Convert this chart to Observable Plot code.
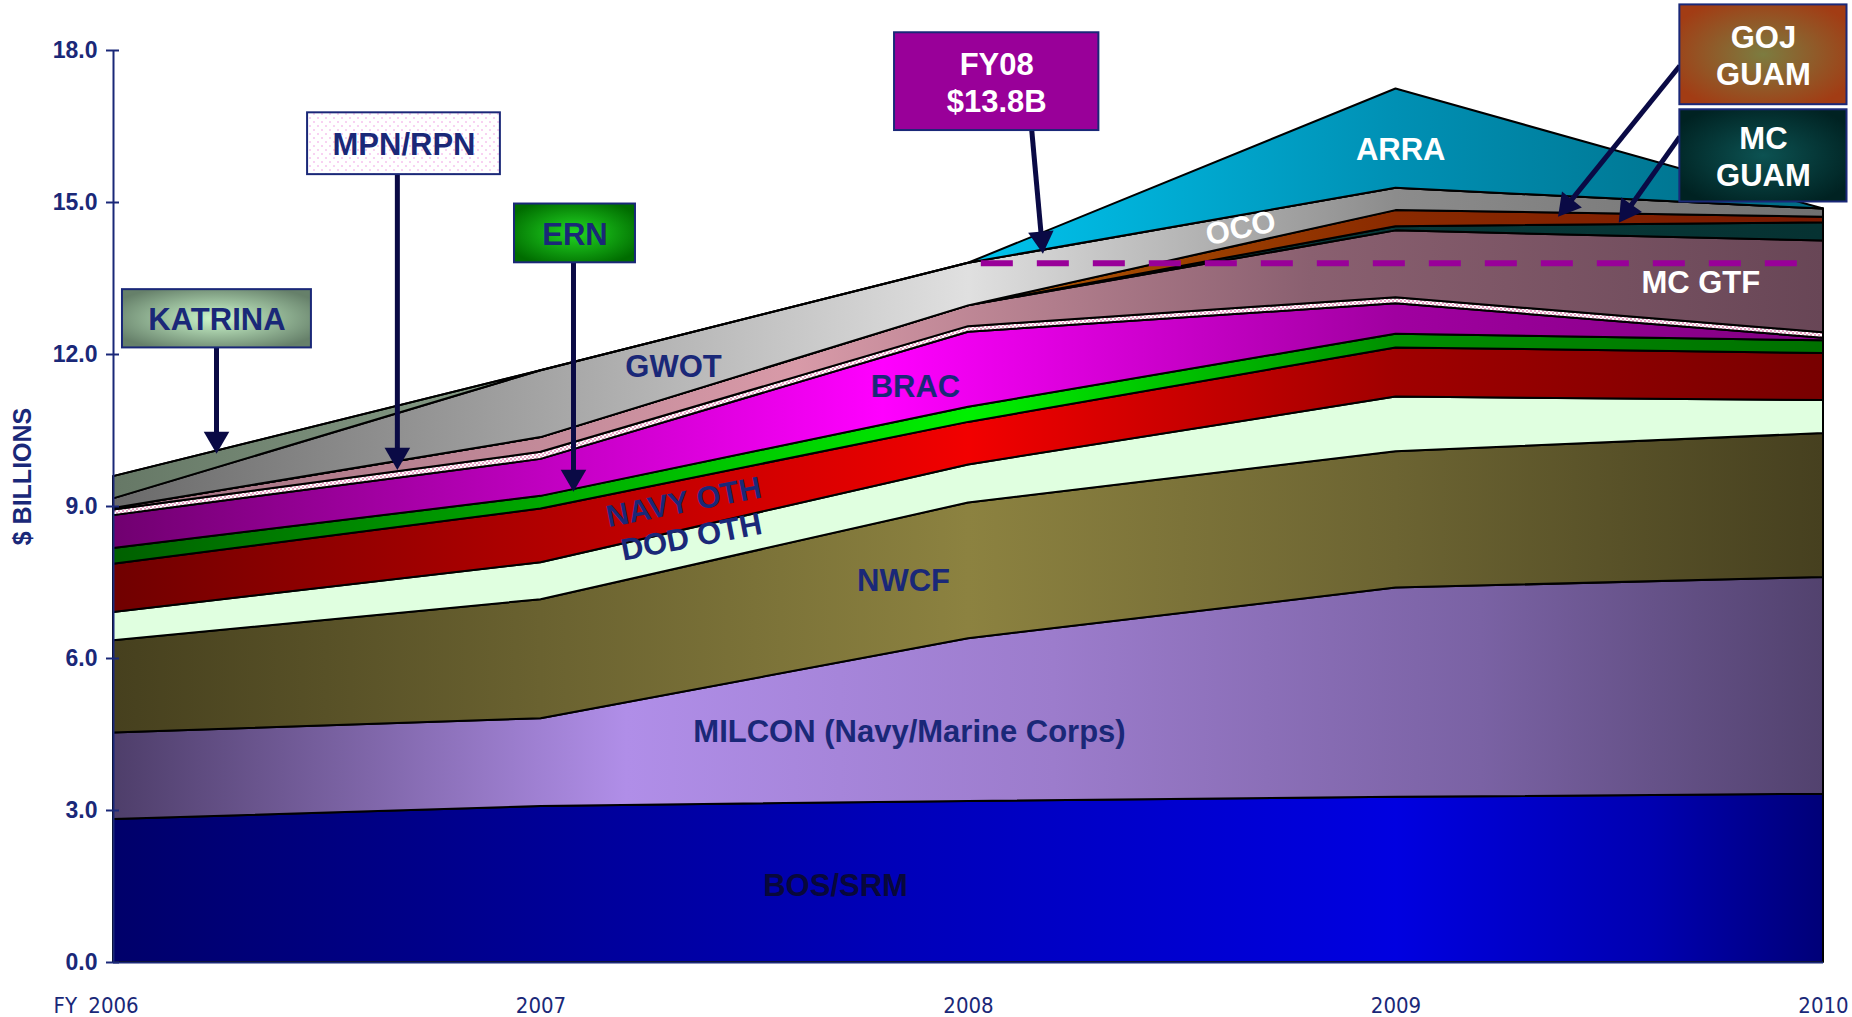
<!DOCTYPE html>
<html><head><meta charset="utf-8">
<script src="https://cdn.jsdelivr.net/npm/d3@7"></script>
<script src="https://cdn.jsdelivr.net/npm/@observablehq/plot@0.6"></script>
<style>
html,body{margin:0;padding:0;background:#fff;}
#chart{width:1852px;height:1017px;}
</style></head><body>
<svg width="0" height="0" style="position:absolute">
<defs>
<linearGradient id="g-bos" x1="0" y1="0" x2="1" y2="0">
 <stop offset="0" stop-color="#00006a"/><stop offset="0.45" stop-color="#0000b8"/><stop offset="0.75" stop-color="#0000e0"/><stop offset="0.9" stop-color="#0000b0"/><stop offset="1" stop-color="#000078"/>
</linearGradient>
<linearGradient id="g-milcon" x1="0" y1="0" x2="1" y2="0">
 <stop offset="0" stop-color="#4e3e6a"/><stop offset="0.3" stop-color="#b08ee8"/><stop offset="0.55" stop-color="#9c7ccc"/><stop offset="0.8" stop-color="#7a62a4"/><stop offset="1" stop-color="#52426e"/>
</linearGradient>
<linearGradient id="g-nwcf" x1="0" y1="0" x2="1" y2="0">
 <stop offset="0" stop-color="#46401e"/><stop offset="0.25" stop-color="#6a6230"/><stop offset="0.5" stop-color="#8c8240"/><stop offset="0.75" stop-color="#6c6432"/><stop offset="1" stop-color="#46401f"/>
</linearGradient>
<linearGradient id="g-navy" x1="0" y1="0" x2="1" y2="0">
 <stop offset="0" stop-color="#700000"/><stop offset="0.5" stop-color="#f20000"/><stop offset="0.75" stop-color="#a00000"/><stop offset="1" stop-color="#780000"/>
</linearGradient>
<linearGradient id="g-ern" x1="0" y1="0" x2="1" y2="0">
 <stop offset="0" stop-color="#006000"/><stop offset="0.5" stop-color="#00f000"/><stop offset="0.75" stop-color="#009000"/><stop offset="1" stop-color="#007000"/>
</linearGradient>
<linearGradient id="g-brac" x1="0" y1="0" x2="1" y2="0">
 <stop offset="0" stop-color="#700070"/><stop offset="0.45" stop-color="#ff00ff"/><stop offset="0.75" stop-color="#a000a0"/><stop offset="1" stop-color="#800080"/>
</linearGradient>
<linearGradient id="g-mcgtf" x1="0" y1="0" x2="1" y2="0">
 <stop offset="0" stop-color="#a07080"/><stop offset="0.4" stop-color="#d89aa8"/><stop offset="0.7" stop-color="#8a6070"/><stop offset="1" stop-color="#684656"/>
</linearGradient>
<linearGradient id="g-mcguam" x1="0" y1="0" x2="1" y2="0">
 <stop offset="0" stop-color="#0a4a4a"/><stop offset="1" stop-color="#063232"/>
</linearGradient>
<linearGradient id="g-goj" x1="0" y1="0" x2="1" y2="0">
 <stop offset="0.5" stop-color="#b05a00"/><stop offset="0.75" stop-color="#8a2a00"/><stop offset="1" stop-color="#7a1800"/>
</linearGradient>
<linearGradient id="g-gwot" x1="0" y1="0" x2="1" y2="0">
 <stop offset="0" stop-color="#6a6a6a"/><stop offset="0.25" stop-color="#a4a4a4"/><stop offset="0.5" stop-color="#e0e0e0"/><stop offset="0.75" stop-color="#8c8c8c"/><stop offset="1" stop-color="#707070"/>
</linearGradient>
<linearGradient id="g-katrina" x1="0" y1="0" x2="1" y2="0">
 <stop offset="0" stop-color="#667866"/><stop offset="0.25" stop-color="#8aa08a"/><stop offset="1" stop-color="#8aa08a"/>
</linearGradient>
<linearGradient id="g-arra" x1="0" y1="0" x2="1" y2="0">
 <stop offset="0" stop-color="#00c4ee"/><stop offset="0.5" stop-color="#00c4ee"/><stop offset="0.75" stop-color="#0090b4"/><stop offset="1" stop-color="#006a82"/>
</linearGradient>
<pattern id="p-mpn" width="4" height="4" patternUnits="userSpaceOnUse">
 <rect width="4" height="4" fill="#ffffff"/><rect width="2" height="2" fill="#eaa8c8"/><rect x="2" y="2" width="2" height="2" fill="#eaa8c8"/>
</pattern>
<pattern id="p-mpnbox" width="8" height="8" patternUnits="userSpaceOnUse">
 <rect width="8" height="8" fill="#ffffff"/><circle cx="2" cy="2" r="1" fill="#f6c4ee"/><circle cx="6" cy="6" r="1" fill="#f6c4ee"/>
</pattern>
<radialGradient id="r-katrina" cx="0.5" cy="0.5" r="0.6">
 <stop offset="0" stop-color="#ccf8cc"/><stop offset="1" stop-color="#66806a"/>
</radialGradient>
<radialGradient id="r-ern" cx="0.5" cy="0.5" r="0.6">
 <stop offset="0" stop-color="#22d822"/><stop offset="1" stop-color="#006c00"/>
</radialGradient>
<radialGradient id="r-goj" cx="0.5" cy="0.5" r="0.6">
 <stop offset="0" stop-color="#7c7c40"/><stop offset="1" stop-color="#a23c14"/>
</radialGradient>
<radialGradient id="r-mcguam" cx="0.5" cy="0.5" r="0.6">
 <stop offset="0" stop-color="#0c5252"/><stop offset="1" stop-color="#002222"/>
</radialGradient>
</defs></svg>
<div id="chart"></div>
<script>
// ---- data (FY, $ billions) ----
const years = [2006, 2007, 2008, 2009, 2010];
const yTicks = [0, 3, 6, 9, 12, 15, 18];
const seriesNames = ["BOS/SRM", "MILCON (Navy/Marine Corps)", "NWCF", "DOD OTH", "NAVY OTH", "ERN", "BRAC", "MPN/RPN", "MC GTF", "MC GUAM", "GOJ GUAM", "GWOT/OCO", "KATRINA", "ARRA"];
const bosSrm   = [2.82, 3.08, 3.18, 3.26, 3.32];
const milcon   = [1.71, 1.73, 3.21, 4.13, 4.28];
const nwcf     = [1.82, 2.35, 2.68, 2.69, 2.84];
const dodOth   = [0.56, 0.73, 0.75, 1.08, 0.65];
const navyOth  = [0.95, 1.06, 0.84, 0.97, 0.93];
const ern      = [0.31, 0.25, 0.30, 0.27, 0.25];
const brac     = [0.65, 0.73, 1.48, 0.60, 0.05];
const mpnRpn   = [0.11, 0.14, 0.11, 0.12, 0.11];
const mcGtf    = [0.03, 0.29, 0.41, 1.32, 1.81];
const mcGuam   = [0.00, 0.00, 0.00, 0.08, 0.36];
const gojGuam  = [0.00, 0.00, 0.00, 0.32, 0.11];
const gwotOco  = [0.19, 1.32, 0.84, 0.44, 0.16];
const katrina  = [0.44, 0.00, 0.00, 0.00, 0.00];
const arra     = [0.00, 0.00, 0.00, 1.96, 0.00];
const fy08Total = 13.8;

const seriesValues = [bosSrm, milcon, nwcf, dodOth, navyOth, ern, brac, mpnRpn, mcGtf, mcGuam, gojGuam, gwotOco, katrina, arra];
const fills = {
  "BOS/SRM": "url(#g-bos)", "MILCON (Navy/Marine Corps)": "url(#g-milcon)", "NWCF": "url(#g-nwcf)",
  "DOD OTH": "#e0ffe0", "NAVY OTH": "url(#g-navy)", "ERN": "url(#g-ern)", "BRAC": "url(#g-brac)",
  "MPN/RPN": "url(#p-mpn)", "MC GTF": "url(#g-mcgtf)", "MC GUAM": "url(#g-mcguam)", "GOJ GUAM": "url(#g-goj)",
  "GWOT/OCO": "url(#g-gwot)", "KATRINA": "url(#g-katrina)", "ARRA": "url(#g-arra)"
};
const data = seriesNames.flatMap((s, i) => years.map((yr, j) => ({series: s, year: yr, value: seriesValues[i][j]})));

// ---- annotations ----
const navy = "#1a2878";
const layerLabels = [
  {text: "BOS/SRM", x: 2007.689, y: 1.50, color: "#08083a", rotate: 0},
  {text: "MILCON (Navy/Marine Corps)", x: 2007.862, y: 4.54, color: navy, rotate: 0},
  {text: "NWCF", x: 2007.848, y: 7.52, color: navy, rotate: 0},
  {text: "DOD OTH", x: 2007.352, y: 8.39, color: navy, rotate: -11},
  {text: "NAVY OTH", x: 2007.334, y: 9.08, color: navy, rotate: -11},
  {text: "BRAC", x: 2007.876, y: 11.35, color: navy, rotate: 0},
  {text: "GWOT", x: 2007.310, y: 11.76, color: navy, rotate: 0},
  {text: "OCO", x: 2008.637, y: 14.49, color: "white", rotate: -12},
  {text: "ARRA", x: 2009.011, y: 16.03, color: "white", rotate: 0},
  {text: "MC GTF", x: 2009.713, y: 13.40, color: "white", rotate: 0}
];
const boxes = [
  {text: "KATRINA", x1: 2006.021, x2: 2006.463, y1: 12.13, y2: 13.28, fill: "url(#r-katrina)", color: navy},
  {text: "MPN/RPN", x1: 2006.454, x2: 2006.905, y1: 15.55, y2: 16.77, fill: "url(#p-mpnbox)", color: navy},
  {text: "ERN", x1: 2006.938, x2: 2007.221, y1: 13.81, y2: 14.97, fill: "url(#r-ern)", color: navy},
  {text: "FY08\n$" + fy08Total.toFixed(1) + "B", x1: 2007.827, x2: 2008.305, y1: 16.42, y2: 18.35, fill: "#990099", color: "white"},
  {text: "GOJ\nGUAM", x1: 2009.664, x2: 2010.055, y1: 16.93, y2: 18.90, fill: "url(#r-goj)", color: "white"},
  {text: "MC\nGUAM", x1: 2009.664, x2: 2010.055, y1: 15.01, y2: 16.83, fill: "url(#r-mcguam)", color: "white"}
];
const arrows = [
  {x1: 2006.241, y1: 12.13, x2: 2006.241, y2: 10.04},
  {x1: 2006.664, y1: 15.55, x2: 2006.664, y2: 9.72},
  {x1: 2007.076, y1: 13.81, x2: 2007.076, y2: 9.29},
  {x1: 2008.148, y1: 16.42, x2: 2008.174, y2: 13.99},
  {x1: 2009.664, y1: 17.70, x2: 2009.379, y2: 14.72},
  {x1: 2009.664, y1: 16.30, x2: 2009.521, y2: 14.60}
];

const W = 1852, H = 1017, ML = 113, MR = 29, MT = 50, MB = 55;
const pxPerYear = (W - ML - MR) / 4, pxPerUnit = (H - MT - MB) / 18;
// filled triangular heads: centre placed back from the tip along the arrow direction
const headR = 9.5;
const headBack = 2 * Math.sqrt(Math.PI * headR * headR / (3 * Math.sqrt(3)));
const heads = arrows.map(a => {
  const dx = (a.x2 - a.x1) * pxPerYear, dy = -(a.y2 - a.y1) * pxPerUnit;
  const len = Math.hypot(dx, dy), ux = dx / len, uy = dy / len;
  return {
    x: a.x2 - ux * headBack / pxPerYear,
    y: a.y2 + uy * headBack / pxPerUnit,
    rotate: Math.atan2(dx, -dy) * 180 / Math.PI
  };
});

const bold = "'Liberation Sans', Arial, Helvetica, sans-serif";
const narrow = "'Liberation Sans Narrow', 'Arial Narrow', 'DejaVu Sans Condensed', sans-serif";

const chart = Plot.plot({
  width: W, height: H,
  marginLeft: ML, marginRight: MR, marginTop: MT, marginBottom: MB,
  x: {domain: [2006, 2010], axis: null},
  y: {domain: [0, 18], axis: null},
  color: {type: "identity"},
  style: {fontFamily: bold, background: "white", overflow: "visible"},
  marks: [
    Plot.areaY(data, Plot.stackY({x: "year", y: "value", z: "series", order: seriesNames,
      fill: d => fills[d.series], stroke: "#000", strokeWidth: 2, strokeLinejoin: "round"})),
    Plot.ruleY([fy08Total], {x1: 2008.03, x2: 2009.97, stroke: "#990099", strokeWidth: 6, strokeDasharray: "32,24"}),
    Plot.text(layerLabels, {x: "x", y: "y", text: "text", fill: "color", rotate: "rotate", fontSize: 31, fontWeight: "bold"}),
    // axes
    Plot.ruleX([2006], {y1: 0, y2: 18, stroke: navy, strokeWidth: 2}),
    Plot.ruleY([0], {x1: 2006, x2: 2010, stroke: navy, strokeWidth: 2}),
    Plot.ruleY(yTicks, {x1: 2006 - 7 / pxPerYear, x2: 2006 + 6 / pxPerYear, stroke: navy, strokeWidth: 2}),
    Plot.text(yTicks, {x: 2006, y: d => d, text: d => d.toFixed(1), textAnchor: "end", dx: -16, fontSize: 23, fontWeight: "bold", fill: navy}),
    Plot.text(years, {x: d => d, frameAnchor: "bottom", dy: 50, text: d => String(d), fontSize: 22, fontFamily: narrow, fill: navy}),
    Plot.text(["FY"], {frameAnchor: "bottom-left", dx: -60, dy: 50, fontSize: 22, fontFamily: narrow, fill: navy}),
    Plot.text(["$ BILLIONS"], {frameAnchor: "left", textAnchor: "middle", dx: -91, dy: -30, rotate: -90, fontSize: 25, fontWeight: "bold", fill: navy}),
    // callouts
    Plot.link(arrows.map((a, i) => ({...a, hx: heads[i].x, hy: heads[i].y})), {x1: "x1", y1: "y1", x2: "hx", y2: "hy", stroke: "#0a0a45", strokeWidth: 5}),
    Plot.dot(heads, {x: "x", y: "y", rotate: "rotate", symbol: "triangle", r: headR, fill: "#0a0a45", stroke: "none"}),
    Plot.rect(boxes, {x1: "x1", x2: "x2", y1: "y1", y2: "y2", fill: "fill", stroke: navy, strokeWidth: 2}),
    Plot.text(boxes, {x: d => (d.x1 + d.x2) / 2, y: d => (d.y1 + d.y2) / 2, text: "text", fill: "color", fontSize: 31, fontWeight: "bold", lineHeight: 1.18})
  ]
});
document.getElementById("chart").appendChild(chart);
</script>
</body></html>
